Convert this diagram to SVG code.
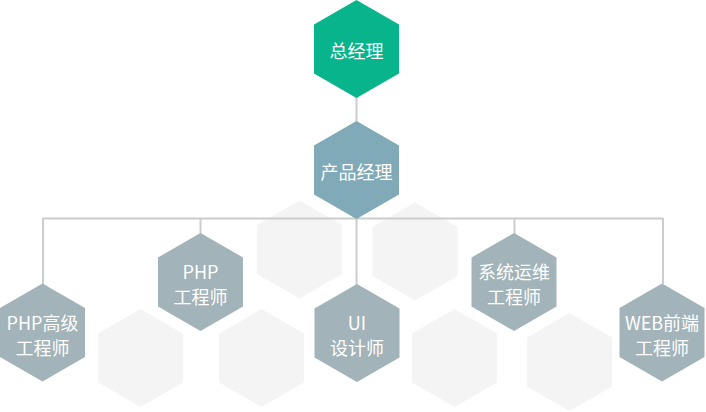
<svg xmlns="http://www.w3.org/2000/svg" xmlns:xlink="http://www.w3.org/1999/xlink" width="706" height="412" viewBox="0 0 706 412">
<style>
.bg{fill:#f4f4f4}
.gm{fill:#07b48b}
.pm{fill:#80aab8}
.eng{fill:#a2b3b9}
.conn{stroke:#cccccc;stroke-width:2;fill:none}
text{font-family:"Noto Sans CJK SC","Microsoft YaHei",sans-serif;font-size:18px;fill:#ffffff;text-anchor:middle;dominant-baseline:central}
</style>
<defs>
<polygon id="hex" points="0,-49 42.5,-24.5 42.5,24.5 0,49 -42.5,24.5 -42.5,-24.5"/>
</defs>
<g id="background">
<use xlink:href="#hex" href="#hex" class="bg" transform="translate(299.5,249.5)"/>
<use xlink:href="#hex" href="#hex" class="bg" transform="translate(140.5,358)"/>
<use xlink:href="#hex" href="#hex" class="bg" transform="translate(261.5,358)"/>
<use xlink:href="#hex" href="#hex" class="bg" transform="translate(415,251.5)"/>
<use xlink:href="#hex" href="#hex" class="bg" transform="translate(454.5,358)"/>
<use xlink:href="#hex" href="#hex" class="bg" transform="translate(569.5,362)"/>
</g>
<g id="connectors">
<path class="conn" d="M356.5,97 V123"/>
<path class="conn" d="M356.5,218 V285"/>
<path class="conn" d="M42.5,218.5 H663"/>
<path class="conn" d="M43,218 V284"/>
<path class="conn" d="M200.5,218 V234"/>
<path class="conn" d="M514.5,218 V234"/>
<path class="conn" d="M663,218 V284"/>
</g>
<g id="gm">
<use xlink:href="#hex" href="#hex" class="gm" transform="translate(356.5,49)"/>
<text x="356.5" y="50">总经理</text>
</g>
<g id="pm">
<use xlink:href="#hex" href="#hex" class="pm" transform="translate(356.5,170)"/>
<text x="356.5" y="171">产品经理</text>
</g>
<g id="php-senior">
<use xlink:href="#hex" href="#hex" class="eng" transform="translate(42.5,332.5)"/>
<text x="42.5" y="321.5">PHP高级</text>
<text x="42.5" y="346.5">工程师</text>
</g>
<g id="php">
<use xlink:href="#hex" href="#hex" class="eng" transform="translate(200.5,282)"/>
<text x="200.5" y="270.5">PHP</text>
<text x="200.5" y="295.5">工程师</text>
</g>
<g id="ui">
<use xlink:href="#hex" href="#hex" class="eng" transform="translate(357,333)"/>
<text x="357" y="321.5">UI</text>
<text x="357" y="346.5">设计师</text>
</g>
<g id="ops">
<use xlink:href="#hex" href="#hex" class="eng" transform="translate(514,282)"/>
<text x="514" y="270.5">系统运维</text>
<text x="514" y="295.5">工程师</text>
</g>
<g id="web">
<use xlink:href="#hex" href="#hex" class="eng" transform="translate(662,332.5)"/>
<text x="662" y="321.5">WEB前端</text>
<text x="662" y="346.5">工程师</text>
</g>
</svg>
